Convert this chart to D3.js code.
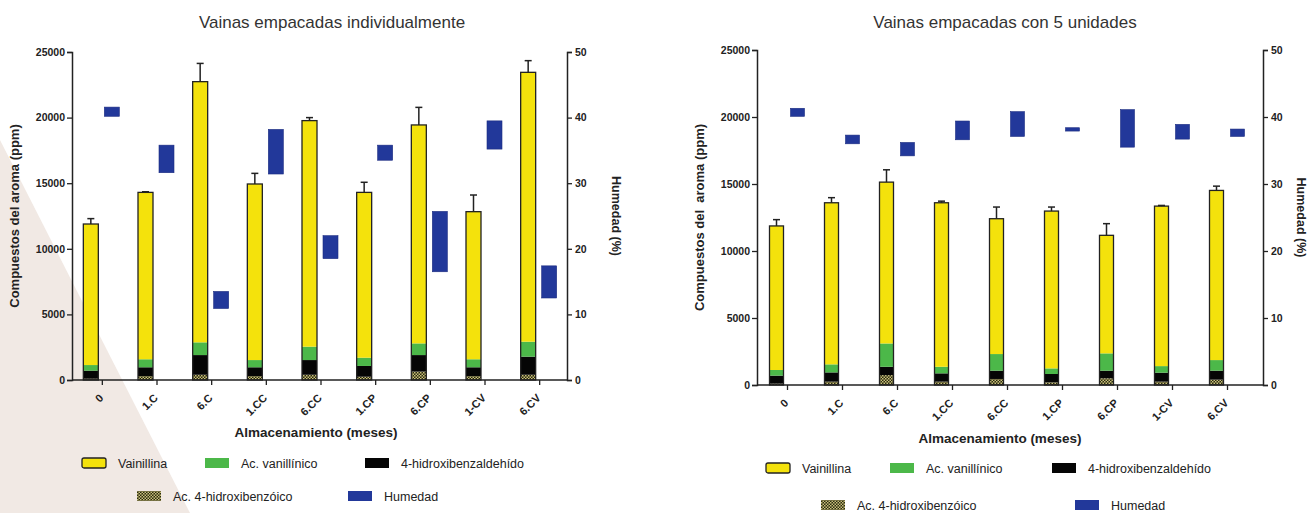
<!DOCTYPE html>
<html>
<head>
<meta charset="utf-8">
<script src="https://cdn.jsdelivr.net/npm/d3@7"></script>
<style>
  body { margin: 0; background: #fff; }
  svg { display: block; font-family: 'Liberation Sans', Arial, sans-serif; }
  .tick text { font-weight: bold; }
</style>
</head>
<body>
<svg id="chart" width="1316" height="513"></svg>
<script>
const categories = ['0', '1.C', '6.C', '1.CC', '6.CC', '1.CP', '6.CP', '1-CV', '6.CV'];

// panel A: individually packed (ppm, stacked components)
const indivHidroxibenzoico = [100, 300, 400, 300, 400, 250, 640, 300, 400];
const indivHidroxibenzaldehido = [610, 670, 1500, 670, 1120, 820, 1260, 670, 1380];
const indivVanillinico = [430, 610, 970, 550, 1020, 630, 890, 610, 1140];
const indivVainillina = [10750, 12720, 19870, 13420, 17230, 12600, 16650, 11250, 20530];
const indivError = [410, 50, 1390, 810, 230, 770, 1340, 1270, 890];
const indivHumedadMin = [40.2, 31.6, 10.9, 31.4, 18.5, 33.5, 16.5, 35.2, 12.5];
const indivHumedadMax = [41.6, 35.8, 13.5, 38.2, 22.0, 35.8, 25.7, 39.5, 17.4];

// panel B: packed in groups of 5
const grpHidroxibenzoico = [100, 250, 740, 250, 450, 200, 500, 250, 400];
const grpHidroxibenzaldehido = [600, 690, 620, 620, 620, 620, 570, 670, 670];
const grpVanillinico = [420, 600, 1740, 490, 1240, 420, 1290, 490, 790];
const grpVainillina = [10750, 12060, 12040, 12240, 10100, 11740, 8810, 11940, 12660];
const grpError = [470, 380, 920, 120, 870, 300, 870, 50, 320];
const grpHumedadMin = [40.1, 36.0, 34.2, 36.6, 37.1, 37.9, 35.5, 36.7, 37.1];
const grpHumedadMax = [41.3, 37.3, 36.2, 39.4, 40.8, 38.4, 41.1, 38.9, 38.2];

const ppmTicks = [0, 5000, 10000, 15000, 20000, 25000];
const humTicks = [0, 10, 20, 30, 40, 50];
const seriesNames = ['Ac. 4-hidroxibenzóico', '4-hidroxibenzaldehído', 'Ac. vanillínico', 'Vainillina'];

const colors = {
  'Vainillina': '#f4e20c',
  'Ac. vanillínico': '#4cb849',
  '4-hidroxibenzaldehído': '#050505',
  'Ac. 4-hidroxibenzóico': 'url(#checker)',
  'Humedad': '#22389a'
};

const svg = d3.select('#chart');

// pale decorative wedge from the source page
svg.append('path')
  .attr('d', 'M0,140 L190,513 L0,513 Z')
  .attr('fill', '#f1e9e4');

const defs = svg.append('defs');
const pat = defs.append('pattern')
  .attr('id', 'checker')
  .attr('width', 3).attr('height', 3)
  .attr('patternUnits', 'userSpaceOnUse');
pat.append('rect').attr('width', 3).attr('height', 3).attr('fill', '#2a2a10');
pat.append('rect').attr('width', 1.5).attr('height', 1.5).attr('fill', '#c9c07a');
pat.append('rect').attr('x', 1.5).attr('y', 1.5).attr('width', 1.5).attr('height', 1.5).attr('fill', '#c9c07a');

function drawPanel(cfg) {
  const g = svg.append('g');

  const x = d3.scaleBand().domain(categories).range([cfg.left + 3, cfg.right - cfg.rightGap]);
  const y = d3.scaleLinear().domain([0, 25000]).range([cfg.bottom, cfg.top]);
  const yh = d3.scaleLinear().domain([0, 50]).range([cfg.bottom, cfg.top]);

  const rows = categories.map((c, i) => ({
    cat: c,
    'Ac. 4-hidroxibenzóico': cfg.hb[i],
    '4-hidroxibenzaldehído': cfg.ald[i],
    'Ac. vanillínico': cfg.van[i],
    'Vainillina': cfg.vain[i],
    err: cfg.err[i],
    hmin: cfg.hmin[i],
    hmax: cfg.hmax[i]
  }));
  const stack = d3.stack().keys(seriesNames)(rows);

  const barX = d => x(d.data ? d.data.cat : d.cat) + x.bandwidth() / 2 + cfg.barOff;

  // stacked bars
  stack.forEach(layer => {
    g.selectAll(null)
      .data(layer)
      .enter()
      .append('rect')
      .attr('x', d => barX(d))
      .attr('width', cfg.barW)
      .attr('y', d => y(d[1]))
      .attr('height', d => y(d[0]) - y(d[1]))
      .attr('fill', colors[layer.key]);
  });
  const top = stack[stack.length - 1];
  // outline round whole bar
  g.selectAll(null)
    .data(top)
    .enter()
    .append('rect')
    .attr('x', d => barX(d))
    .attr('width', cfg.barW)
    .attr('y', d => y(d[1]))
    .attr('height', d => y(0) - y(d[1]))
    .attr('fill', 'none')
    .attr('stroke', '#222')
    .attr('stroke-width', 1.3);
  // error bars (upper only)
  top.forEach(d => {
    const cx = barX(d) + cfg.barW / 2;
    g.append('line')
      .attr('x1', cx).attr('x2', cx)
      .attr('y1', y(d[1])).attr('y2', y(d[1] + d.data.err))
      .attr('stroke', '#222').attr('stroke-width', 1.5);
    g.append('line')
      .attr('x1', cx - 3.5).attr('x2', cx + 3.5)
      .attr('y1', y(d[1] + d.data.err)).attr('y2', y(d[1] + d.data.err))
      .attr('stroke', '#222').attr('stroke-width', 1.5);
  });

  // humidity floating bars
  g.selectAll(null)
    .data(rows)
    .enter()
    .append('rect')
    .attr('x', d => x(d.cat) + x.bandwidth() / 2 + cfg.humOff)
    .attr('width', cfg.barW)
    .attr('y', d => yh(d.hmax))
    .attr('height', d => Math.max(1.5, yh(d.hmin) - yh(d.hmax)))
    .attr('fill', colors['Humedad'])
    .attr('stroke', '#1c2c80')
    .attr('stroke-width', 0.6);

  // axes
  const axL = g.append('g')
    .attr('transform', `translate(${cfg.left},0)`)
    .call(d3.axisLeft(y).tickValues(ppmTicks).tickFormat(d3.format('d')).tickSize(5).tickPadding(2));
  const axR = g.append('g')
    .attr('transform', `translate(${cfg.right},0)`)
    .call(d3.axisRight(yh).tickValues(humTicks).tickFormat(d3.format('d')).tickSize(5).tickPadding(3));
  [axL, axR].forEach(a => {
    a.select('.domain').attr('stroke', '#222').attr('stroke-width', 1.5);
    a.selectAll('.tick line').attr('stroke', '#222').attr('stroke-width', 1.3);
    a.selectAll('.tick text').attr('font-size', 10.5).attr('fill', '#222');
  });

  g.append('line')
    .attr('x1', cfg.left).attr('x2', cfg.right)
    .attr('y1', cfg.bottom).attr('y2', cfg.bottom)
    .attr('stroke', '#222').attr('stroke-width', 1.5);
  const axB = g.append('g')
    .attr('transform', `translate(0,${cfg.bottom})`)
    .call(d3.axisBottom(x).tickSize(5).tickSizeOuter(0));
  axB.select('.domain').remove();
  axB.selectAll('.tick line').attr('stroke', '#222').attr('stroke-width', 1.3);
  axB.selectAll('.tick text')
    .attr('font-size', 11)
    .attr('fill', '#222')
    .attr('text-anchor', 'end')
    .attr('dy', 0)
    .attr('transform', 'translate(-4,13) rotate(-45)');

  // titles
  g.append('text')
    .attr('x', cfg.titleX).attr('y', 28)
    .attr('text-anchor', 'middle')
    .attr('font-size', 17)
    .attr('fill', '#333')
    .text(cfg.title);
  g.append('text')
    .attr('transform', `translate(${cfg.yTitleX},${(cfg.top + cfg.bottom) / 2}) rotate(-90)`)
    .attr('text-anchor', 'middle')
    .attr('font-size', 13)
    .attr('font-weight', 'bold')
    .attr('fill', '#222')
    .attr('xml:space', 'preserve')
    .text(cfg.yTitle);
  g.append('text')
    .attr('transform', `translate(${cfg.hTitleX},${(cfg.top + cfg.bottom) / 2}) rotate(90)`)
    .attr('text-anchor', 'middle')
    .attr('font-size', 12.5)
    .attr('font-weight', 'bold')
    .attr('fill', '#222')
    .text('Humedad (%)');
  g.append('text')
    .attr('x', cfg.xTitleX).attr('y', cfg.xTitleY)
    .attr('text-anchor', 'middle')
    .attr('font-size', 13.5)
    .attr('font-weight', 'bold')
    .attr('fill', '#222')
    .text('Almacenamiento (meses)');

  // legend
  const items = [
    { name: 'Vainillina', x: 0, row: 0, stroke: true },
    { name: 'Ac. vanillínico', x: cfg.leg[0], row: 0 },
    { name: '4-hidroxibenzaldehído', x: cfg.leg[1], row: 0 },
    { name: 'Ac. 4-hidroxibenzóico', x: cfg.leg[2], row: 1 },
    { name: 'Humedad', x: cfg.leg[3], row: 1 }
  ];
  const lg = g.append('g').attr('transform', `translate(${cfg.legX},${cfg.legY})`);
  items.forEach(it => {
    const ig = lg.append('g').attr('transform', `translate(${it.x},${it.row * cfg.legRow})`);
    ig.append('rect')
      .attr('x', 0).attr('y', -5)
      .attr('width', 24).attr('height', 10)
      .attr('rx', it.stroke ? 2 : 0)
      .attr('fill', colors[it.name])
      .attr('stroke', it.stroke ? '#222' : 'none')
      .attr('stroke-width', 1.3);
    ig.append('text')
      .attr('x', 36).attr('y', 4.5)
      .attr('font-size', 12.5)
      .attr('fill', '#222')
      .text(it.name);
  });
}

drawPanel({
  title: 'Vainas empacadas individualmente', titleX: 332,
  left: 72, right: 567, rightGap: 0, top: 52, bottom: 380,
  barW: 15, barOff: -19, humOff: 2,
  hb: indivHidroxibenzoico, ald: indivHidroxibenzaldehido, van: indivVanillinico,
  vain: indivVainillina, err: indivError, hmin: indivHumedadMin, hmax: indivHumedadMax,
  yTitle: 'Compuestos del aroma (ppm)', yTitleX: 19, hTitleX: 612,
  xTitleX: 316, xTitleY: 437,
  legX: 82, legY: 463, legRow: 33, leg: [123, 283, 55, 266]
});

drawPanel({
  title: 'Vainas empacadas con 5 unidades', titleX: 1005,
  left: 757, right: 1263, rightGap: 8, top: 50, bottom: 385,
  barW: 14, barOff: -18, humOff: 3,
  hb: grpHidroxibenzoico, ald: grpHidroxibenzaldehido, van: grpVanillinico,
  vain: grpVainillina, err: grpError, hmin: grpHumedadMin, hmax: grpHumedadMax,
  yTitle: 'Compuestos del  aroma (ppm)', yTitleX: 704, hTitleX: 1297,
  xTitleX: 1000, xTitleY: 443,
  legX: 766, legY: 468, legRow: 37, leg: [124, 286, 55, 309]
});
</script>
</body>
</html>
